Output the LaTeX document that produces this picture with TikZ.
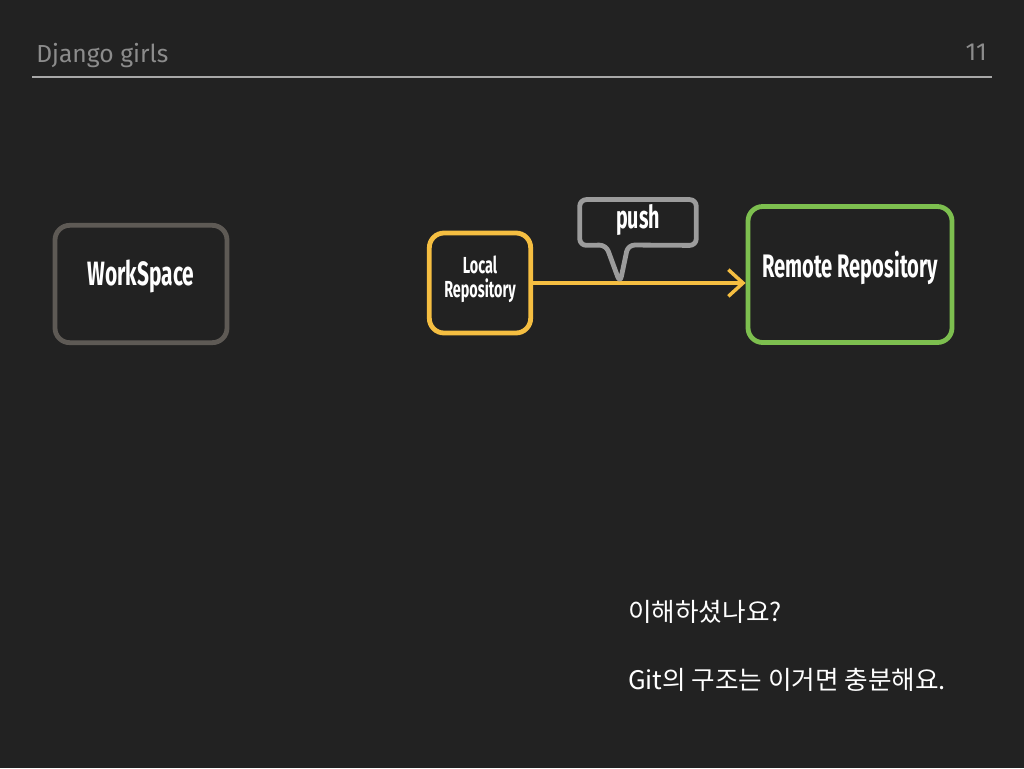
\documentclass[tikz,border=0pt]{standalone}
\usepackage{fontspec}
\usetikzlibrary{arrows.meta}
\newfontfamily\condfont[FakeStretch=0.62]{Fira Sans}
\newfontfamily\dinfont{Fira Sans}
\newfontfamily\krfont{Noto Sans CJK KR}
\definecolor{bgc}{HTML}{222222}
\definecolor{titlegray}{HTML}{8C8C8C}
\definecolor{rulec}{HTML}{A8A8A8}
\definecolor{wsgray}{HTML}{5E5A55}
\definecolor{localy}{HTML}{F5BE41}
\definecolor{remoteg}{HTML}{7DBF4F}
\definecolor{pushg}{HTML}{9C9C9C}
\tikzset{
  chalkbox/.style={draw=#1, line width=3.6pt, rounded corners=11pt, inner sep=0pt},
  boxtext/.style={text=white, font=\condfont\bfseries\fontsize{#1}{#1}\selectfont, align=center, inner sep=0pt},
  pushline/.style={draw=pushg, line width=3.6pt, rounded corners=5pt, line join=round},
  flow/.style={draw=localy, line width=2.6pt, -{Straight Barb[length=11pt,width=20pt,line width=2.6pt]}},
  headtext/.style={inner sep=0pt, text=titlegray, font=\dinfont\fontsize{18.5}{20}\selectfont},
  krtext/.style={anchor=base west, inner sep=0pt, text=white, font=\krfont\fontsize{19.2}{22}\selectfont},
}
\begin{document}
\begin{tikzpicture}[x=0.75pt,y=-0.75pt]
\fill[bgc] (0,0) rectangle (1024,768);
\useasboundingbox (0,0) rectangle (1024,768);
% header
\node[headtext, anchor=base west] (title) at (36,62) {Django girls};
\node[headtext, anchor=base east] (pagenum) at (987,60) {11};
\draw[rulec, line width=1.5pt] (32,77) -- (992,77);
% boxes
\node[chalkbox=wsgray, minimum width=129pt, minimum height=88pt] (ws) at (141,284) {};
\node[boxtext=25.3] (wstext) at (141,276) {WorkSpace};
\node[chalkbox=localy, minimum width=76pt, minimum height=75pt] (local) at (480,283) {};
\node[boxtext=17.4] (localtext) at (480,279) {Local\\[0.5pt]Repository};
\node[chalkbox=remoteg, minimum width=153pt, minimum height=102pt] (remote) at (850,274.5) {};
\node[boxtext=24.4] (remotetext) at (850,268) {Remote Repository};
% arrow
\draw[flow] (local.east) -- (local.east -| remote.west);
% callout
\node[minimum width=87pt, minimum height=34pt, inner sep=0pt] (push) at (638,222.5) {};
\node[boxtext=23.8] (pushtext) at (638,220) {push};
\coordinate (tailL) at (606,245);
\coordinate (tailR) at (628,245);
\coordinate (tip) at (620,283);
\draw[pushline] (tailR) -- (push.south east) -- (push.north east) -- (push.north west) -- (push.south west) -- (tailL) -- (tip) -- cycle;
% korean text
\node[krtext] (q1) at (628,621) {이해하셨나요?};
\node[krtext] (q2) at (628,689) {Git의 구조는 이거면 충분해요.};
\end{tikzpicture}
\end{document}
